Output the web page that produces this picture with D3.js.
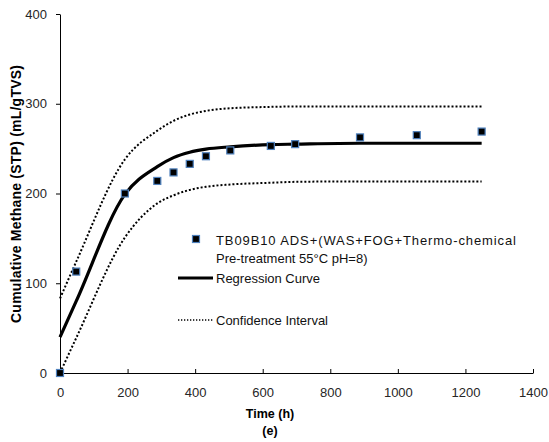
<!DOCTYPE html>
<html>
<head>
<meta charset="utf-8">
<script src="https://cdn.jsdelivr.net/npm/d3@7"></script>
<style>
  html, body { margin: 0; padding: 0; background: #fff; }
  svg { display: block; font-family: "Liberation Sans", Arial, sans-serif; }
</style>
</head>
<body>
<svg id="chart" width="549" height="442"></svg>
<script>
// Measured cumulative methane yield (mL/gTVS) over digestion time (h)
const timeH = [0, 48, 192, 288, 336, 384, 432, 504, 624, 696, 888, 1056, 1248];
const methane = [0, 113, 200, 214, 223.5, 233, 241.5, 248, 253, 255, 262.5, 265, 269];

// Fitted regression curve and its confidence band, at the same times
const regression = [40, 80, 199, 230, 240, 246, 249.5, 252, 254.5, 255, 256, 256, 256];
const upperCI = [83, 124, 238, 270, 281, 288, 292, 295, 296.5, 297, 297, 297, 297];
const lowerCI = [0, 39, 151, 189, 198, 204, 207.5, 210, 212, 213, 213.5, 213.5, 213.5];

const xTicks = [0, 200, 400, 600, 800, 1000, 1200, 1400];
const yTicks = [0, 100, 200, 300, 400];

const seriesLabel = ["TB09B10 ADS+(WAS+FOG+Thermo-chemical", "Pre-treatment  55°C  pH=8)"];
const regressionLabel = "Regression Curve";
const ciLabel = "Confidence Interval";
const xTitle = "Time (h)";
const panelTag = "(e)";
const yTitle = "Cumulative Methane (STP) (mL/gTVS)";

const svg = d3.select("#chart");
const x = d3.scaleLinear().domain([0, 1400]).range([60, 533]);
const y = d3.scaleLinear().domain([0, 400]).range([373, 14]);

// Axes
const xAxis = svg.append("g")
  .attr("transform", `translate(0,${y(0)})`)
  .call(d3.axisBottom(x).tickValues(xTicks).tickFormat(d3.format("d"))
    .tickSizeInner(-4).tickSizeOuter(0).tickPadding(15));
const yAxis = svg.append("g")
  .attr("transform", `translate(${x(0)},0)`)
  .call(d3.axisLeft(y).tickValues(yTicks).tickFormat(d3.format("d"))
    .tickSizeInner(4).tickSizeOuter(0).tickPadding(9));

[xAxis, yAxis].forEach(g => {
  g.select(".domain").attr("stroke", "#000").attr("stroke-width", 1);
  g.selectAll(".tick line").attr("stroke", "#000");
  g.selectAll(".tick text")
    .attr("fill", "#262626")
    .style("font-size", "13px")
    .style("font-family", "'Liberation Sans', Arial, sans-serif");
});

// Curves
const pts = arr => timeH.map((t, i) => [t, arr[i]]);
const line = d3.line().x(d => x(d[0])).y(d => y(d[1])).curve(d3.curveMonotoneX);

svg.append("path").datum(pts(upperCI))
  .attr("d", line).attr("fill", "none").attr("stroke", "#000")
  .attr("stroke-width", 2).attr("stroke-dasharray", "2,2");
svg.append("path").datum(pts(lowerCI))
  .attr("d", line).attr("fill", "none").attr("stroke", "#000")
  .attr("stroke-width", 2).attr("stroke-dasharray", "2,2");
svg.append("path").datum(pts(regression))
  .attr("d", line).attr("fill", "none").attr("stroke", "#000")
  .attr("stroke-width", 3.2).attr("stroke-linejoin", "round");

// Measured points
const ms = 7;
svg.append("g").selectAll("rect").data(pts(methane)).join("rect")
  .attr("x", d => x(d[0]) - ms / 2)
  .attr("y", d => y(d[1]) - ms / 2)
  .attr("width", ms).attr("height", ms)
  .attr("fill", "#000").attr("stroke", "#4f81bd").attr("stroke-width", 1.2);

// Legend
const lg = svg.append("g").style("font-size", "13px").attr("fill", "#111");
lg.append("rect").attr("x", 192.5).attr("y", 235.5).attr("width", ms).attr("height", ms)
  .attr("fill", "#000").attr("stroke", "#4f81bd").attr("stroke-width", 1.2);
lg.append("text").attr("x", 216).attr("y", 244.5)
  .attr("textLength", 300).attr("lengthAdjust", "spacing").text(seriesLabel[0]);
lg.append("text").attr("x", 216).attr("y", 262.5).text(seriesLabel[1]);
lg.append("line").attr("x1", 178).attr("x2", 213).attr("y1", 278).attr("y2", 278)
  .attr("stroke", "#000").attr("stroke-width", 3.2);
lg.append("text").attr("x", 216).attr("y", 282.5).text(regressionLabel);
lg.append("line").attr("x1", 178).attr("x2", 213).attr("y1", 320).attr("y2", 320)
  .attr("stroke", "#000").attr("stroke-width", 1.3).attr("stroke-dasharray", "1.3,1.7");
lg.append("text").attr("x", 216).attr("y", 324.5).text(ciLabel);

// Axis titles
svg.append("text").attr("x", 270).attr("y", 418).attr("text-anchor", "middle")
  .style("font-size", "12.5px").style("font-weight", "bold").text(xTitle);
svg.append("text").attr("x", 270).attr("y", 435).attr("text-anchor", "middle")
  .style("font-size", "12.5px").style("font-weight", "bold").text(panelTag);
svg.append("text")
  .attr("transform", "translate(21,194) rotate(-90)")
  .attr("text-anchor", "middle")
  .attr("textLength", 258).attr("lengthAdjust", "spacing")
  .style("font-size", "14px").style("font-weight", "bold").text(yTitle);
</script>
</body>
</html>
